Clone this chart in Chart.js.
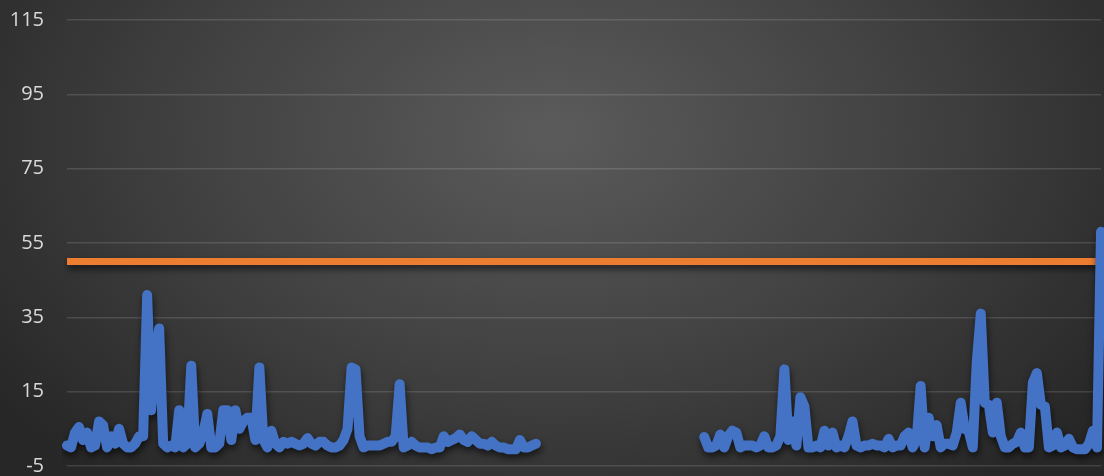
<!DOCTYPE html>
<html>
<head>
<meta charset="utf-8">
<script src="https://cdn.jsdelivr.net/npm/chart.js@4.4.1/dist/chart.umd.min.js"></script>
<style>
    html, body { margin: 0; padding: 0; }
    body {
        width: 1104px;
        height: 476px;
        overflow: hidden;
        background: radial-gradient(ellipse 62% 95% at 50% 28%, #5b5b5b 0%, #404040 55%, #272727 100%);
    }
    canvas { display: block; }
</style>
</head>
<body>
<canvas id="chart" width="1104" height="476"></canvas>
<script>
// --- Data ---
const yTicks = [-5, 15, 35, 55, 75, 95, 115];
const limitValue = 50;

// first run of readings
const seriesA = [
    0.5, 0, 4, 5.5, 2, 4, 0, 0.5, 7, 6, 0, 3, 1, 5, 1, 0, 0, 1, 3, 3,
    41, 10, 25, 32, 1, 0, 0.5, 0, 10, 0, 1, 22, 0, 1, 4, 9, 0, 0, 1, 10,
    10, 2, 10, 5, 7, 8, 8, 2, 21.5, 2, 0, 4.5, 1, 0, 1.5, 1, 1.5, 1, 0.5, 1,
    2.5, 1, 0.5, 1.5, 1.5, 0.5, 0, 0, 0.5, 2, 5, 21.5, 21, 3, 0, 0.5, 0.5, 0.5, 0.5, 1,
    1.5, 1.5, 3, 17, 0, 0.5, 1.5, 0.5, 0, 0, 0, -0.5, 0, 0, 3, 1.5, 2, 2.5, 3.5, 2,
    1.5, 3, 2, 1, 1, 0.5, 1.5, 0.5, 0, 0, -0.5, -0.5, -0.5, 2, 0, 0, 0.5, 1
];
// missing readings between the two runs
const gapLength = 41;
// second run of readings
const seriesB = [
    2.8, 0, 0, 0.5, 3.5, 0, 3, 4.5, 4, 0, 0.5, 0.5, 0.5, 0, 0.5, 3, 0, 0, 0.5, 3,
    21, 2, 7, 0.5, 13.5, 11, 0, 0, 0.5, 0, 4.5, 0.5, 4, 0, 0.5, 0, 3, 7, 0.5, 0,
    0.5, 0.5, 1, 0.5, 0.5, 0, 2.3, 0, 0.5, 0.5, 3, 4, 0, 2, 16.5, 0, 8, 3, 6, 0,
    1, 1, 0.5, 4, 12, 5, 4.4, 0, 23, 36, 12, 11.5, 4, 12, 3, 0, 0, 1, 1.5, 4,
    0, 0, 17.5, 20, 11.5, 11, 0, 0.5, 4, 0, 0.5, 2.3, 0, -0.5, -0.5, -0.5, 1, 4.5, 0, 58
];
// ----------------------------------

const values = seriesA.concat(Array(gapLength).fill(null), seriesB);
const labels = values.map((_, i) => String(i + 1));
const limitLine = values.map(() => limitValue);

// soft drop shadow under both lines
const shadowPlugin = {
    id: 'lineShadow',
    beforeDatasetDraw(chart) {
        const ctx = chart.ctx;
        ctx.save();
        ctx.shadowColor = 'rgba(0, 0, 0, 0.6)';
        ctx.shadowBlur = 7;
        ctx.shadowOffsetX = 1;
        ctx.shadowOffsetY = 4;
    },
    afterDatasetDraw(chart) {
        chart.ctx.restore();
    }
};

const ctx = document.getElementById('chart').getContext('2d');
new Chart(ctx, {
    type: 'line',
    data: {
        labels: labels,
        datasets: [
            {
                data: values,
                borderColor: '#4472C4',
                borderWidth: 10,
                borderJoinStyle: 'round',
                borderCapStyle: 'round',
                pointRadius: 0,
                tension: 0,
                spanGaps: false,
                order: 1
            },
            {
                data: limitLine,
                borderColor: '#ED7D31',
                borderWidth: 7,
                pointRadius: 0,
                tension: 0,
                order: 2
            }
        ]
    },
    options: {
        responsive: false,
        animation: false,
        layout: { padding: { top: 20, bottom: 10, right: 3, left: 0 } },
        plugins: {
            legend: { display: false },
            tooltip: { enabled: false }
        },
        scales: {
            x: { display: false, offset: false },
            y: {
                min: -5,
                max: 115,
                afterBuildTicks(scale) {
                    scale.ticks = yTicks.map(v => ({ value: v }));
                },
                afterFit(scale) {
                    scale.width = 67;
                    scale.paddingTop = 0;
                    scale.paddingBottom = 0;
                },
                border: { display: false },
                grid: {
                    color: 'rgba(255, 255, 255, 0.13)',
                    lineWidth: 1.5,
                    drawTicks: false
                },
                ticks: {
                    color: '#d9d9d9',
                    padding: 23,
                    font: { family: 'Open Sans', size: 20 }
                }
            }
        }
    },
    plugins: [shadowPlugin]
});
</script>
</body>
</html>
